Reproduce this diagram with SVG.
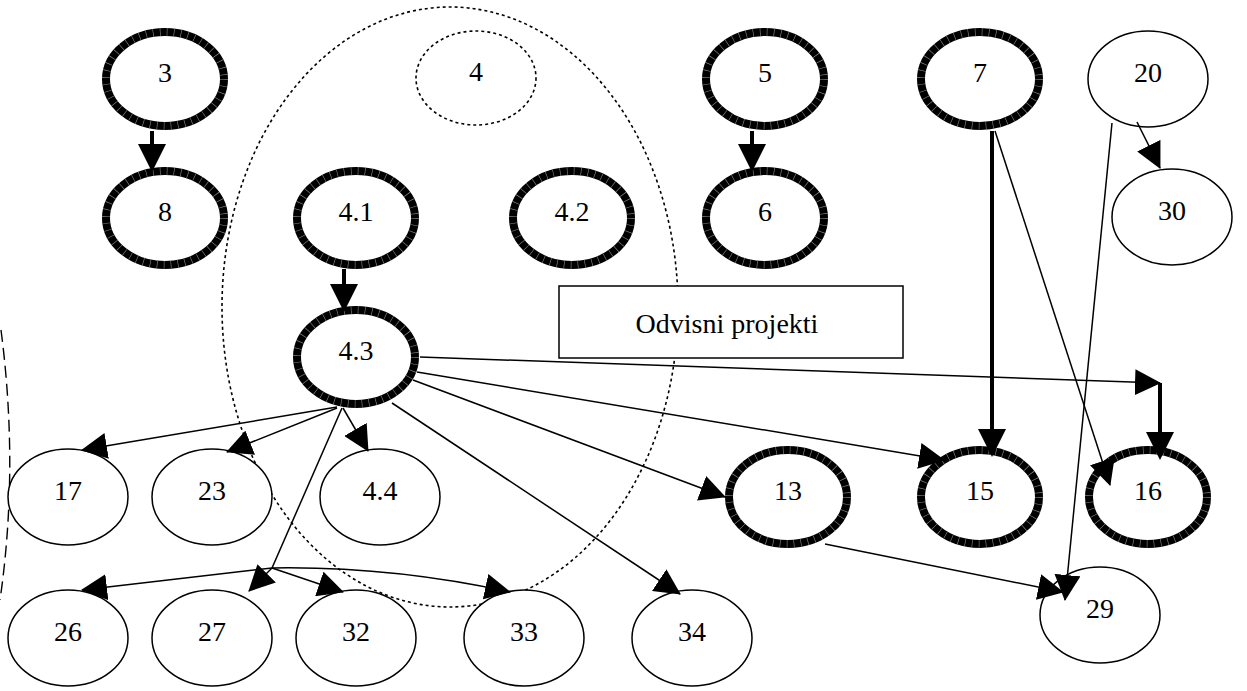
<svg xmlns="http://www.w3.org/2000/svg" width="1247" height="691" viewBox="0 0 1247 691">
  <style>
    .thick { fill: #fff; stroke: #000; stroke-width: 8; }
    .hatch { fill: none; stroke: #8a8a8a; stroke-width: 8; stroke-dasharray: 0.6 6.4; }
    .thin { fill: #fff; stroke: #000; stroke-width: 1.5; }
    .dotted { fill: none; stroke: #000; stroke-width: 1.6; stroke-dasharray: 3 3; }
    .lbl { font-size: 28px; text-anchor: middle; fill: #000; }
    .edge { fill: none; stroke: #000; stroke-width: 1.5; marker-end: url(#arrow); }
    .bare { fill: none; stroke: #000; stroke-width: 1.5; }
    .bold { fill: none; stroke: #000; stroke-width: 4; marker-end: url(#arrowBold); }
  </style>
  <defs>
    <marker id="arrow" markerUnits="userSpaceOnUse" markerWidth="26" markerHeight="26" refX="25" refY="13" orient="auto">
      <path d="M0,0 L26,13 L0,26 z" fill="#000"/>
    </marker>
    <marker id="arrowBold" markerUnits="userSpaceOnUse" markerWidth="28" markerHeight="28" refX="23" refY="14" orient="auto">
      <path d="M0,0 L28,14 L0,28 z" fill="#000"/>
    </marker>
  </defs>

  <rect width="1247" height="691" fill="#fff"/>

  <g font-family="'Liberation Serif', 'Times New Roman', 'DejaVu Serif', serif">
  <!-- group outline around project 4 and its subprojects -->
  <ellipse id="group4" class="dotted" cx="450" cy="307" rx="228" ry="300"/>
  <!-- partial dashed boundary on the left edge -->
  <path id="leftBoundary" d="M1,330 Q19,468 0,600" fill="none" stroke="#000" stroke-width="1.4" stroke-dasharray="12 6"/>

  <!-- legend box -->
  <g id="legend">
    <rect x="559" y="286" width="344" height="72" fill="#fff" stroke="#000" stroke-width="1.5"/>
    <text class="lbl" x="727" y="333">Odvisni projekti</text>
  </g>

  <!-- nodes -->
  <g id="n3"><ellipse class="thick" cx="165" cy="79" rx="59" ry="47"/><ellipse class="hatch" cx="165" cy="79" rx="59" ry="47"/><text class="lbl" x="165" y="82">3</text></g>
  <g id="n4"><ellipse class="dotted" cx="476" cy="78" rx="60" ry="47"/><text class="lbl" x="476" y="81">4</text></g>
  <g id="n5"><ellipse class="thick" cx="765" cy="79" rx="59" ry="47"/><ellipse class="hatch" cx="765" cy="79" rx="59" ry="47"/><text class="lbl" x="765" y="82">5</text></g>
  <g id="n7"><ellipse class="thick" cx="980" cy="79" rx="59" ry="47"/><ellipse class="hatch" cx="980" cy="79" rx="59" ry="47"/><text class="lbl" x="980" y="82">7</text></g>
  <g id="n20"><ellipse class="thin" cx="1148" cy="79" rx="60" ry="48"/><text class="lbl" x="1148" y="82">20</text></g>

  <g id="n8"><ellipse class="thick" cx="165" cy="218" rx="59" ry="47"/><ellipse class="hatch" cx="165" cy="218" rx="59" ry="47"/><text class="lbl" x="165" y="221">8</text></g>
  <g id="n4_1"><ellipse class="thick" cx="356" cy="218" rx="59" ry="47"/><ellipse class="hatch" cx="356" cy="218" rx="59" ry="47"/><text class="lbl" x="356" y="221">4.1</text></g>
  <g id="n4_2"><ellipse class="thick" cx="572" cy="218" rx="59" ry="47"/><ellipse class="hatch" cx="572" cy="218" rx="59" ry="47"/><text class="lbl" x="572" y="221">4.2</text></g>
  <g id="n6"><ellipse class="thick" cx="765" cy="218" rx="59" ry="47"/><ellipse class="hatch" cx="765" cy="218" rx="59" ry="47"/><text class="lbl" x="765" y="221">6</text></g>
  <g id="n30"><ellipse class="thin" cx="1172" cy="217" rx="60" ry="48"/><text class="lbl" x="1172" y="220">30</text></g>

  <g id="n4_3"><ellipse class="thick" cx="356" cy="357" rx="59" ry="47"/><ellipse class="hatch" cx="356" cy="357" rx="59" ry="47"/><text class="lbl" x="356" y="360">4.3</text></g>

  <g id="n17"><ellipse class="thin" cx="68" cy="497" rx="60" ry="48"/><text class="lbl" x="68" y="500">17</text></g>
  <g id="n23"><ellipse class="thin" cx="212" cy="497" rx="60" ry="48"/><text class="lbl" x="212" y="500">23</text></g>
  <g id="n4_4"><ellipse class="thin" cx="380" cy="497" rx="60" ry="48"/><text class="lbl" x="380" y="500">4.4</text></g>
  <g id="n13"><ellipse class="thick" cx="788" cy="497" rx="59" ry="47"/><ellipse class="hatch" cx="788" cy="497" rx="59" ry="47"/><text class="lbl" x="788" y="500">13</text></g>
  <g id="n15"><ellipse class="thick" cx="980" cy="497" rx="59" ry="47"/><ellipse class="hatch" cx="980" cy="497" rx="59" ry="47"/><text class="lbl" x="980" y="500">15</text></g>
  <g id="n16"><ellipse class="thick" cx="1148" cy="497" rx="59" ry="47"/><ellipse class="hatch" cx="1148" cy="497" rx="59" ry="47"/><text class="lbl" x="1148" y="500">16</text></g>

  <g id="n26"><ellipse class="thin" cx="68" cy="638" rx="60" ry="48"/><text class="lbl" x="68" y="641">26</text></g>
  <g id="n27"><ellipse class="thin" cx="212" cy="638" rx="60" ry="48"/><text class="lbl" x="212" y="641">27</text></g>
  <g id="n32"><ellipse class="thin" cx="356" cy="638" rx="60" ry="48"/><text class="lbl" x="356" y="641">32</text></g>
  <g id="n33"><ellipse class="thin" cx="524" cy="638" rx="60" ry="48"/><text class="lbl" x="524" y="641">33</text></g>
  <g id="n34"><ellipse class="thin" cx="692" cy="638" rx="60" ry="48"/><text class="lbl" x="692" y="641">34</text></g>
  <g id="n29"><ellipse class="thin" cx="1100" cy="615" rx="60" ry="48"/><text class="lbl" x="1100" y="618">29</text></g>
  </g>

  <!-- connectors -->
  <g id="connectors">
    <path class="bold" d="M152,131 L152,167"/>
    <path class="bold" d="M752,131 L752,167"/>
    <path class="bold" d="M344,269 L344,307"/>
    <path class="bold" d="M992,131 L992,452"/>
    <path class="bold" d="M1160,383 L1160,455"/>

    <path class="edge" d="M337,407 L82,450"/>
    <path class="edge" d="M337,408 L227,452"/>
    <path class="edge" d="M343,408 L368,451"/>
    <path class="bare" d="M342,408 L272,568"/>
    <path class="edge" d="M272,568 L249,591"/>
    <path class="edge" d="M272,568 L82,590"/>
    <path class="edge" d="M272,568 L343,592"/>
    <path class="edge" d="M272,568 Q390,566 510,592"/>
    <path class="edge" d="M392,403 L680,594"/>
    <path class="edge" d="M413,380 L725,497"/>
    <path class="edge" d="M417,372 L944,460"/>
    <path class="edge" d="M420,357 L1160,383"/>
    <path class="edge" d="M995,131 L1110,485"/>
    <path class="edge" d="M1137,122 L1160,168"/>
    <path class="edge" d="M1112,123 L1065,600"/>
    <path class="edge" d="M825,544 L1063,592"/>
  </g>
</svg>
